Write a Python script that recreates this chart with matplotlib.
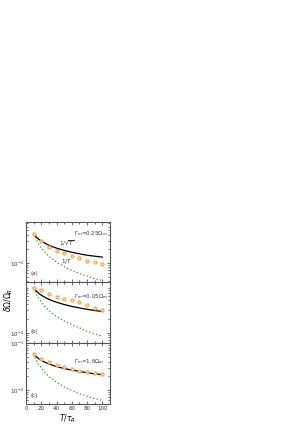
import matplotlib
matplotlib.use("Agg")
import matplotlib.pyplot as plt
from matplotlib.ticker import LogLocator, NullFormatter, MultipleLocator

# ---- data ----
T_line = [10, 12, 14, 17, 20, 25, 30, 35, 40, 50, 60, 70, 80, 90, 100]
T_pts = [10, 20, 30, 40, 50, 60, 70, 80, 90, 100]

black_a = [0.0414, 0.0378, 0.0350, 0.0318, 0.0293, 0.0262, 0.0239, 0.0221, 0.0207, 0.0185, 0.0169, 0.0156, 0.0146, 0.0139, 0.0133]
green_a = [0.0414, 0.0345, 0.0296, 0.0244, 0.0207, 0.0166, 0.0138, 0.0118, 0.0104, 0.0083, 0.0069, 0.0059, 0.0052, 0.0046, 0.0042]
orange_a = [0.0414, 0.0298, 0.0222, 0.0180, 0.0161, 0.0141, 0.0130, 0.0110, 0.0103, 0.0095]

black_b = [0.0893, 0.0815, 0.0755, 0.0685, 0.0631, 0.0565, 0.0516, 0.0477, 0.0447, 0.0399, 0.0365, 0.0338, 0.0316, 0.0298, 0.0284]
green_b = [0.0893, 0.0744, 0.0638, 0.0525, 0.0447, 0.0357, 0.0298, 0.0255, 0.0223, 0.0179, 0.0149, 0.0128, 0.0108, 0.0095, 0.0085]
orange_b = [0.0893, 0.0794, 0.0676, 0.0575, 0.0529, 0.0487, 0.0442, 0.0381, 0.0336, 0.0309]

black_c = [0.0580, 0.0535, 0.0500, 0.0459, 0.0427, 0.0387, 0.0358, 0.0334, 0.0315, 0.0286, 0.0264, 0.0247, 0.0232, 0.0220, 0.0211]
green_c = [0.0580, 0.0483, 0.0414, 0.0341, 0.0290, 0.0232, 0.0193, 0.0166, 0.0145, 0.0116, 0.0097, 0.0083, 0.0073, 0.0065, 0.0060]
orange_c = [0.0583, 0.0457, 0.0388, 0.0340, 0.0313, 0.0284, 0.0258, 0.0238, 0.0230, 0.0216]

panel_labels = ["(a)", "(b)", "(c)"]
gamma_labels = [r"$\Gamma_m\!=\!0.25\Omega_m$", r"$\Gamma_m\!=\!0.05\Omega_m$", r"$\Gamma_m\!=\!1.6\Omega_m$"]
ylims = [(0.0039, 0.075), (0.0061, 0.12), (0.005, 0.1)]
ymajor = [[0.01], [0.01], [0.01, 0.1]]
x_ticks = [0, 20, 40, 60, 80, 100]

blacks = [black_a, black_b, black_c]
greens = [green_a, green_b, green_c]
oranges = [orange_a, orange_b, orange_c]

# ---- figure ----
fig = plt.figure(figsize=(3.0, 4.24), dpi=100)
left, width = 26 / 300, 84 / 300
tops = [222, 282, 343]
bots = [282, 343, 404]
fs = 4.0
label_y = [0.79, 0.74, 0.67]
axes = []
for i in range(3):
    y0 = 1 - bots[i] / 424
    h = (bots[i] - tops[i]) / 424
    ax = fig.add_axes([left, y0, width, h])
    axes.append(ax)
    ax.set_yscale("log")
    ax.plot(T_line, blacks[i], color="black", lw=0.9, zorder=3)
    ax.plot(T_line, greens[i], color="#2e9a2e", lw=0.9, ls=(0, (1, 1.8)), zorder=3)
    ax.plot(T_pts, oranges[i], ls="none", marker="o", ms=2.3, mec="#f39a3c",
            mfc="#fde2bd", mew=0.7, zorder=4)
    ax.set_xlim(0, 110)
    ax.set_ylim(*ylims[i])
    ax.set_yticks(ymajor[i])
    ax.yaxis.set_minor_locator(LogLocator(base=10, subs=range(2, 10)))
    ax.yaxis.set_minor_formatter(NullFormatter())
    ax.xaxis.set_major_locator(MultipleLocator(20))
    ax.xaxis.set_minor_locator(MultipleLocator(10))
    ax.tick_params(which="both", direction="in", top=True, right=True,
                   labelsize=fs, pad=1.5, width=0.5, colors="#333333")
    ax.tick_params(which="major", length=2.5)
    ax.tick_params(which="minor", length=1.5)
    for s in ax.spines.values():
        s.set_linewidth(0.8)
        s.set_color("#555555")
    if i < 2:
        ax.set_xticklabels([])
    ax.text(0.05, 0.12 if i != 1 else 0.17, panel_labels[i], transform=ax.transAxes,
            fontsize=fs, color="#333333")
    ax.text(0.57, label_y[i], gamma_labels[i], transform=ax.transAxes,
            fontsize=fs, color="#333333")

axes[0].text(0.39, 0.61, r"$1/\sqrt{T}$", transform=axes[0].transAxes, fontsize=fs, color="#333333")
axes[0].text(0.42, 0.33, r"$1/T$", transform=axes[0].transAxes, fontsize=fs, color="#333333")

axes[2].set_xticks(x_ticks)
axes[2].set_xlabel(r"$T/\tau_R$", fontsize=5.5, labelpad=1)
fig.text(0.03, 1 - 300 / 424, r"$\delta\Omega/\Omega_R$", rotation=90, fontsize=5.5,
         va="center", ha="center")

fig.savefig("out.png", dpi=100)
